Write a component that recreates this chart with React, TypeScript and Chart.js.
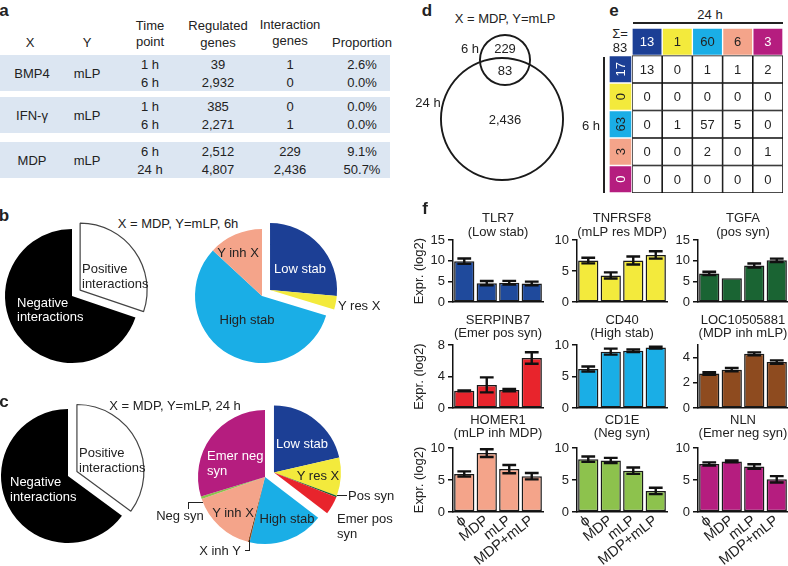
import React, { useEffect, useRef } from 'react';
import { Chart, registerables } from 'chart.js';
Chart.register(...registerables);

const FONT = '"Liberation Sans", Arial, Helvetica, sans-serif';
Chart.defaults.font.family = FONT;
Chart.defaults.font.size = 13;
Chart.defaults.color = '#222';

// ---------------- data ----------------
// panel a
const tableX = ['BMP4', 'IFN-γ', 'MDP'];
const tableY = ['mLP', 'mLP', 'mLP'];
const tableTimes = [['1 h', '6 h'], ['1 h', '6 h'], ['6 h', '24 h']];
const tableRegulated = [['39', '2,932'], ['385', '2,271'], ['2,512', '4,807']];
const tableInteraction = [['1', '0'], ['0', '1'], ['229', '2,436']];
const tableProportion = [['2.6%', '0.0%'], ['0.0%', '0.0%'], ['9.1%', '50.7%']];

// panels b, c
const posNegLabels = ['Positive interactions', 'Negative interactions'];
const posNeg6h = [30.2, 69.8];
const posNeg24h = [35.1, 64.9];
const classes6h = ['Low stab', 'Y res X', 'High stab', 'Y inh X'];
const classShare6h = [26.4, 3.3, 57.2, 13.1];
const classes24h = ['Low stab', 'Y res X', 'Pos syn', 'Emer pos syn', 'High stab', 'X inh Y', 'Y inh X', 'Neg syn', 'Emer neg syn'];
const classShare24h = [21.4, 9.2, 0.4, 4.4, 18.3, 0.4, 15.6, 0.6, 29.7];

// panel d
const vennSets = ['6 h', '24 h'];
const vennSetTotals = [312, 2519];
const vennOnly6h = '229';
const vennBoth = '83';
const vennOnly24h = '2,436';

// panel e
const matrixClasses = ['Low stab', 'Y res X', 'High stab', 'Y inh X', 'Emer neg syn'];
const totals24h = [13, 1, 60, 6, 3];
const totals6h = [17, 0, 63, 3, 0];
const transitionMatrix = [
  [13, 0, 1, 1, 2],
  [0, 0, 0, 0, 0],
  [0, 1, 57, 5, 0],
  [0, 0, 2, 0, 1],
  [0, 0, 0, 0, 0],
];
const sigmaTotal = 83;

// panel f
const conditions = ['ϕ', 'MDP', 'mLP', 'MDP+mLP'];
const geneNames = ['TLR7', 'TNFRSF8', 'TGFA', 'SERPINB7', 'CD40', 'LOC10505881', 'HOMER1', 'CD1E', 'NLN'];
const geneClasses = ['(Low stab)', '(mLP res MDP)', '(pos syn)', '(Emer pos syn)', '(High stab)', '(MDP inh mLP)', '(mLP inh MDP)', '(Neg syn)', '(Emer neg syn)'];
const tlr7 = [9.9, 4.6, 4.7, 4.5];
const tlr7Err = [0.65, 0.5, 0.45, 0.45];
const tnfrsf8 = [6.7, 4.3, 6.7, 7.6];
const tnfrsf8Err = [0.45, 0.5, 0.65, 0.6];
const tgfa = [6.95, 5.8, 8.85, 10.1];
const tgfaErr = [0.4, 0, 0.5, 0.4];
const serpinb7 = [2.2, 2.95, 2.3, 6.35];
const serpinb7Err = [0.05, 0.95, 0.15, 0.73];
const cd40 = [6.2, 8.95, 9.1, 9.6];
const cd40Err = [0.4, 0.47, 0.2, 0.15];
const loc10505881 = [2.75, 3.05, 4.3, 3.65];
const loc10505881Err = [0.1, 0.13, 0.12, 0.13];
const homer1 = [5.95, 9.2, 6.7, 5.6];
const homer1Err = [0.4, 0.6, 0.65, 0.5];
const cd1e = [8.25, 8.05, 6.45, 3.3];
const cd1eErr = [0.42, 0.4, 0.5, 0.5];
const nln = [7.5, 7.9, 7.1, 5.1];
const nlnErr = [0.25, 0.15, 0.35, 0.5];
const geneMeans = [tlr7, tnfrsf8, tgfa, serpinb7, cd40, loc10505881, homer1, cd1e, nln];
const geneErrs = [tlr7Err, tnfrsf8Err, tgfaErr, serpinb7Err, cd40Err, loc10505881Err, homer1Err, cd1eErr, nlnErr];
const axisMax = [15, 10, 15, 8, 10, 5, 10, 10, 10];
const axisStep = [5, 5, 5, 2, 5, 1, 5, 5, 5];

// ---------------- styles ----------------
const CLASS_COLORS: Record<string, string> = {
  'Low stab': '#1c3f95',
  'Y res X': '#f3ea3c',
  'Pos syn': '#1a6433',
  'Emer pos syn': '#e8242c',
  'High stab': '#1aaee6',
  'X inh Y': '#8e4b1f',
  'Y inh X': '#f4a48a',
  'Neg syn': '#8dc24d',
  'Emer neg syn': '#b51d7f',
};
const GENE_COLORS = ['#1f4a9c', '#f3ea3c', '#1a6433', '#e8242c', '#1aaee6', '#8e4b1f', '#f4a48a', '#8dc24d', '#b51d7f'];
const INK = '#222';

// ---------------- plugins ----------------
const explodePlugin = {
  id: 'explode',
  afterDatasetsUpdate(chart: any, _a: any, opts: any) {
    const n = opts.count || 0;
    if (!n) return;
    const arcs = chart.getDatasetMeta(0).data as any[];
    const mid = (arcs[0].startAngle + arcs[n - 1].endAngle) / 2;
    const dx = Math.cos(mid) * opts.distance;
    const dy = Math.sin(mid) * opts.distance;
    for (let i = 0; i < n; i++) {
      arcs[i].x += dx;
      arcs[i].y += dy;
    }
  },
};

const errorBarPlugin = {
  id: 'errorBars',
  afterDatasetsDraw(chart: any, _a: any, opts: any) {
    const errs = opts.errors;
    if (!errs) return;
    const ys = chart.scales.y;
    const vals = chart.data.datasets[0].data;
    const ctx = chart.ctx;
    ctx.save();
    ctx.strokeStyle = '#111';
    ctx.lineWidth = 2.4;
    chart.getDatasetMeta(0).data.forEach((bar: any, i: number) => {
      const e = errs[i];
      if (!e) return;
      const y1 = ys.getPixelForValue(vals[i] + e);
      const y2 = ys.getPixelForValue(vals[i] - e);
      const w = bar.width * 0.34;
      ctx.beginPath();
      ctx.moveTo(bar.x, y1);
      ctx.lineTo(bar.x, y2);
      ctx.moveTo(bar.x - w, y1);
      ctx.lineTo(bar.x + w, y1);
      ctx.moveTo(bar.x - w, y2);
      ctx.lineTo(bar.x + w, y2);
      ctx.stroke();
    });
    ctx.restore();
  },
};

const panelTitlePlugin = {
  id: 'panelTitle',
  afterDraw(chart: any, _a: any, opts: any) {
    if (!opts.lines) return;
    const { left, right, top } = chart.chartArea;
    const ctx = chart.ctx;
    ctx.save();
    ctx.fillStyle = INK;
    ctx.font = `13px ${FONT}`;
    ctx.textAlign = 'center';
    ctx.textBaseline = 'middle';
    opts.lines.forEach((t: string, i: number) => ctx.fillText(t, (left + right) / 2, top - opts.offsets[i]));
    ctx.restore();
  },
};

const cellTextPlugin = {
  id: 'cellText',
  afterDatasetsDraw(chart: any, _a: any, opts: any) {
    const ctx = chart.ctx;
    ctx.save();
    ctx.font = `13px ${FONT}`;
    ctx.textAlign = 'center';
    ctx.textBaseline = 'middle';
    chart.data.datasets.forEach((ds: any, c: number) => {
      chart.getDatasetMeta(c).data.forEach((el: any, r: number) => {
        const txt = opts.texts[r][c];
        if (txt === '' || txt == null) return;
        const p = el.getCenterPoint();
        const bg = ds.backgroundColor[r];
        ctx.fillStyle = bg === '#1c3f95' || bg === '#b51d7f' ? '#fff' : INK;
        ctx.save();
        ctx.translate(p.x, p.y);
        if (c === 0) ctx.rotate(-Math.PI / 2);
        ctx.fillText(String(txt), 0, 1);
        ctx.restore();
      });
    });
    ctx.restore();
  },
};

// ---------------- chart configs ----------------
function pieConfig(labels: string[], values: number[], colors: string[], borderWidths: number[], explodeCount: number) {
  return {
    type: 'pie',
    data: {
      labels,
      datasets: [{ data: values, backgroundColor: colors, borderColor: '#444', borderWidth: borderWidths, radius: 67, clip: false }],
    },
    options: {
      animation: false,
      responsive: false,
      events: [],
      layout: { padding: 0 },
      plugins: { legend: { display: false }, tooltip: { enabled: false }, explode: { count: explodeCount, distance: 10 } },
    },
    plugins: [explodePlugin],
  };
}

// a Venn set outline: a one-slice doughnut drawn as a thin ring
function vennRingConfig(i: number, r: number) {
  const outer = r + 1;
  const inner = r - 0.9;
  return {
    type: 'doughnut',
    data: {
      labels: [vennSets[i]],
      datasets: [{ data: [vennSetTotals[i]], backgroundColor: '#1a1a1a', borderWidth: 0, radius: outer, cutout: `${(inner / outer) * 100}%`, clip: false }],
    },
    options: {
      animation: false,
      responsive: false,
      events: [],
      layout: { padding: 0 },
      plugins: { legend: { display: false }, tooltip: { enabled: false } },
    },
  };
}

function barConfig(g: number, row: number, col: number) {
  const showX = row === 2;
  const yw = col === 0 ? 43 : 30;
  const offsets = [[22, 8], [25, 12], [28, 15]][row];
  return {
    type: 'bar',
    data: {
      labels: conditions,
      datasets: [{
        data: geneMeans[g],
        backgroundColor: GENE_COLORS[g],
        borderColor: '#1a1a1a',
        borderWidth: 1.5,
        borderSkipped: false,
        barPercentage: 0.9,
        categoryPercentage: 1,
      }],
    },
    options: {
      animation: false,
      responsive: false,
      events: [],
      layout: { padding: { top: 36, right: 3, left: 0, bottom: 0 } },
      plugins: {
        legend: { display: false },
        tooltip: { enabled: false },
        errorBars: { errors: geneErrs[g] },
        panelTitle: { lines: [geneNames[g], geneClasses[g]], offsets },
      },
      scales: {
        x: {
          grid: { display: false, drawTicks: false },
          border: { display: true, color: '#111', width: 1.5 },
          ticks: { display: showX, minRotation: 38, maxRotation: 38, padding: 0, font: { size: 14.5 }, color: INK, autoSkip: false },
          afterFit: (s: any) => { s.height = showX ? 54 : 10; },
        },
        y: {
          min: 0,
          max: axisMax[g],
          ticks: { stepSize: axisStep[g], padding: 3, font: { size: 13 }, color: INK },
          grid: { drawOnChartArea: false, drawTicks: true, tickLength: 5, color: '#111', lineWidth: 1.5 },
          border: { display: true, color: '#111', width: 1.5 },
          title: { display: col === 0, text: 'Expr. (log2)', font: { size: 13 }, color: INK, padding: { top: 2, bottom: 0 } },
          afterFit: (s: any) => { s.width = yw; },
        },
      },
    },
    plugins: [errorBarPlugin, panelTitlePlugin],
  };
}

function matrixConfig() {
  const hdr = matrixClasses.map((c) => CLASS_COLORS[c]);
  const nRows = totals6h.length + 1;
  const rowLabels = ['24 h totals', ...matrixClasses];
  const texts: (string | number)[][] = [];
  texts.push(['', ...totals24h]);
  transitionMatrix.forEach((row, r) => texts.push([totals6h[r], ...row]));
  const datasets: any[] = [];
  datasets.push({
    label: '6 h',
    data: Array.from({ length: nRows }, () => 0.76),
    backgroundColor: ['rgba(0,0,0,0)', ...hdr],
    borderColor: '#fff',
    borderWidth: [0, 1, 1, 1, 1, 1],
    borderSkipped: false,
    barPercentage: 1,
    categoryPercentage: 1,
  });
  matrixClasses.forEach((cls, c) => {
    datasets.push({
      label: cls,
      data: Array.from({ length: nRows }, () => 1),
      backgroundColor: [hdr[c], '#fff', '#fff', '#fff', '#fff', '#fff'],
      borderColor: ['#fff', '#111', '#111', '#111', '#111', '#111'],
      borderWidth: [1, 1.1, 1.1, 1.1, 1.1, 1.1],
      borderSkipped: false,
      barPercentage: 1,
      categoryPercentage: 1,
    });
  });
  return {
    type: 'bar',
    data: { labels: rowLabels, datasets },
    options: {
      indexAxis: 'y',
      animation: false,
      responsive: false,
      events: [],
      layout: { padding: 0 },
      plugins: { legend: { display: false }, tooltip: { enabled: false }, cellText: { texts } },
      scales: {
        x: { display: false, stacked: true, min: 0, max: 5.76 },
        y: { display: false, stacked: true },
      },
    },
    plugins: [cellTextPlugin],
  };
}

// ---------------- components ----------------
function ChartBox({ left, top, width, height, make }: any) {
  const ref = useRef<HTMLCanvasElement>(null);
  useEffect(() => {
    const chart = new Chart(ref.current as HTMLCanvasElement, make());
    return () => chart.destroy();
  }, []);
  return <canvas ref={ref} width={width} height={height} style={{ position: 'absolute', left, top, width, height }} />;
}

function T({ x, y, children, size = 13, color = INK, align = 'center', bold = false }: any) {
  const tx = align === 'center' ? '-50%' : align === 'right' ? '-100%' : '0';
  return (
    <div style={{ position: 'absolute', left: x, top: y, transform: `translate(${tx}, -50%)`, fontSize: size, fontWeight: bold ? 700 : 400, color, whiteSpace: 'nowrap', lineHeight: 1 }}>
      {children}
    </div>
  );
}

function Rect({ x, y, w, h, bg = INK }: any) {
  return <div style={{ position: 'absolute', left: x, top: y, width: w, height: h, background: bg }} />;
}

const PLOT_LEFT = [453, 577, 698];
const Y_AXIS_W = [43, 30, 30];
const PLOT_TOP = [240, 345, 448];
const PLOT_H = [63, 64, 64];
const X_AXIS_H = [10, 10, 54];
// Venn ring centres / radii (page layout)
const VENN_GEOM = [
  { cx: 505, cy: 60, r: 25 },
  { cx: 502, cy: 119, r: 61 },
];

export default function App() {
  const bandTop = [55, 97, 142];
  const pieC = { bl: [72, 296], br: [262, 296], cl: [68, 476], cr: [265, 477] };
  const S = 200;
  return (
    <div style={{ position: 'absolute', left: 0, top: 0, width: 788, height: 566, background: '#fff', overflow: 'hidden', fontFamily: FONT, color: INK }}>
      {/* ---------- panel a ---------- */}
      <T x={4} y={10} size={17} bold>a</T>
      {bandTop.map((t, i) => <Rect key={'band' + i} x={0} y={t} w={390} h={36} bg="#dce6f2" />)}
      <T x={30} y={42}>X</T>
      <T x={87} y={42}>Y</T>
      <T x={150} y={25}>Time</T>
      <T x={150} y={41}>point</T>
      <T x={218} y={25}>Regulated</T>
      <T x={218} y={42}>genes</T>
      <T x={290} y={24}>Interaction</T>
      <T x={290} y={40}>genes</T>
      <T x={362} y={42}>Proportion</T>
      {tableX.map((xName, g) => (
        <React.Fragment key={'row' + g}>
          <T x={32} y={bandTop[g] + 18}>{xName}</T>
          <T x={87} y={bandTop[g] + 18}>{tableY[g]}</T>
          {[0, 1].map((l) => (
            <React.Fragment key={'l' + l}>
              <T x={150} y={bandTop[g] + 9 + l * 18}>{tableTimes[g][l]}</T>
              <T x={218} y={bandTop[g] + 9 + l * 18}>{tableRegulated[g][l]}</T>
              <T x={290} y={bandTop[g] + 9 + l * 18}>{tableInteraction[g][l]}</T>
              <T x={362} y={bandTop[g] + 9 + l * 18}>{tableProportion[g][l]}</T>
            </React.Fragment>
          ))}
        </React.Fragment>
      ))}

      {/* ---------- panel b ---------- */}
      <T x={4} y={215} size={17} bold>b</T>
      <T x={178} y={223}>X = MDP, Y=mLP, 6h</T>
      <ChartBox left={pieC.bl[0] - S / 2} top={pieC.bl[1] - S / 2} width={S} height={S}
        make={() => pieConfig(posNegLabels, posNeg6h, ['#fff', '#000'], [1.2, 0], 1)} />
      <ChartBox left={pieC.br[0] - S / 2} top={pieC.br[1] - S / 2} width={S} height={S}
        make={() => pieConfig(classes6h, classShare6h, classes6h.map((c) => CLASS_COLORS[c]), classes6h.map(() => 0), 2)} />
      <T x={82} y={268} align="left">Positive</T>
      <T x={82} y={283} align="left">interactions</T>
      <T x={17} y={302} align="left" color="#fff">Negative</T>
      <T x={17} y={316} align="left" color="#fff">interactions</T>
      <T x={300} y={268} color="#fff">Low stab</T>
      <T x={338} y={305} align="left">Y res X</T>
      <T x={247} y={319}>High stab</T>
      <T x={238} y={252}>Y inh X</T>

      {/* ---------- panel c ---------- */}
      <T x={4} y={401} size={17} bold>c</T>
      <T x={175} y={405}>X = MDP, Y=mLP, 24 h</T>
      <ChartBox left={pieC.cl[0] - S / 2} top={pieC.cl[1] - S / 2} width={S} height={S}
        make={() => pieConfig(posNegLabels, posNeg24h, ['#fff', '#000'], [1.2, 0], 1)} />
      <ChartBox left={pieC.cr[0] - S / 2} top={pieC.cr[1] - S / 2} width={S} height={S}
        make={() => pieConfig(classes24h, classShare24h, classes24h.map((c) => CLASS_COLORS[c]), classes24h.map(() => 0), 4)} />
      <T x={79} y={452} align="left">Positive</T>
      <T x={79} y={467} align="left">interactions</T>
      <T x={10} y={481} align="left" color="#fff">Negative</T>
      <T x={10} y={496} align="left" color="#fff">interactions</T>
      <T x={302} y={443} color="#fff">Low stab</T>
      <T x={318} y={475}>Y res X</T>
      <Rect x={337} y={495} w={10} h={1} />
      <T x={348} y={495} align="left">Pos syn</T>
      <T x={337} y={518} align="left">Emer pos</T>
      <T x={337} y={533} align="left">syn</T>
      <T x={287} y={518}>High stab</T>
      <T x={233} y={512}>Y inh X</T>
      <T x={207} y={455} align="left" color="#fff">Emer neg</T>
      <T x={207} y={470} align="left" color="#fff">syn</T>
      <Rect x={188} y={502} w={1} h={7} />
      <Rect x={188} y={502} w={15} h={1} />
      <T x={180} y={515}>Neg syn</T>
      <Rect x={245} y={550} w={5} h={1} />
      <Rect x={249} y={540} w={1} h={10} />
      <T x={220} y={550}>X inh Y</T>

      {/* ---------- panel d ---------- */}
      <T x={427} y={10} size={17} bold>d</T>
      <T x={505} y={18}>X = MDP, Y=mLP</T>
      {VENN_GEOM.map((v, i) => {
        const s = 2 * v.r + 10;
        return <ChartBox key={'venn' + i} left={v.cx - s / 2} top={v.cy - s / 2} width={s} height={s} make={() => vennRingConfig(i, v.r)} />;
      })}
      <T x={470} y={48}>{vennSets[0]}</T>
      <T x={505} y={48}>{vennOnly6h}</T>
      <T x={505} y={70}>{vennBoth}</T>
      <T x={428} y={102}>{vennSets[1]}</T>
      <T x={505} y={119}>{vennOnly24h}</T>

      {/* ---------- panel e ---------- */}
      <T x={614} y={10} size={17} bold>e</T>
      <T x={710} y={14}>24 h</T>
      <Rect x={633} y={22} w={150} h={1.5} />
      <T x={620} y={33}>Σ=</T>
      <T x={620} y={47}>{sigmaTotal}</T>
      <Rect x={603} y={57} w={2} h={136} />
      <T x={591} y={125}>6 h</T>
      <ChartBox left={609} top={28} width={174} height={165} make={matrixConfig} />

      {/* ---------- panel f ---------- */}
      <T x={425} y={208} size={17} bold>f</T>
      {geneNames.map((_, g) => {
        const row = Math.floor(g / 3);
        const col = g % 3;
        const left = PLOT_LEFT[col] - Y_AXIS_W[col];
        const top = PLOT_TOP[row] - 36;
        const width = Y_AXIS_W[col] + 90 + 3;
        const height = 36 + PLOT_H[row] + X_AXIS_H[row];
        return <ChartBox key={'f' + g} left={left} top={top} width={width} height={height} make={() => barConfig(g, row, col)} />;
      })}
    </div>
  );
}
